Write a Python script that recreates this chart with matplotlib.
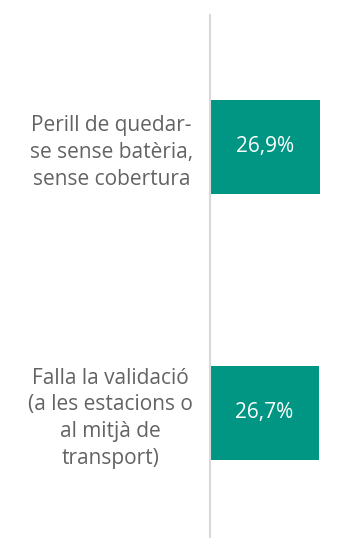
import matplotlib
matplotlib.use("Agg")
import matplotlib.pyplot as plt

plt.rcParams['font.family'] = ['Open Sans', 'DejaVu Sans']

# categories and shares (%)
categories = [
    "Perill de quedar-\nse sense batèria,\nsense cobertura",
    "Falla la validació\n(a les estacions o\nal mitjà de\ntransport)",
]
values = [26.9, 26.7]
value_labels = ["26,9%", "26,7%"]

bar_color = "#009683"
text_color = "#636363"

fig = plt.figure(figsize=(3.57, 5.38), dpi=100)
ax = fig.add_axes([0.588, 0.0, 0.412, 0.972])

ypos = list(range(len(categories)))
bars = ax.barh(ypos, values, height=0.35, color=bar_color)

ax.set_xlim(0, 36)
ax.set_ylim(1.47, -0.496)

for b, lab in zip(bars, value_labels):
    ax.text(b.get_width() / 2, b.get_y() + b.get_height() / 2, lab,
            ha="center", va="center", color="white", fontsize=15)

ax.set_yticks(ypos)
ax.set_yticklabels(categories, fontsize=15, color=text_color,
                   multialignment="center", linespacing=1.36)
ax.tick_params(axis="y", length=0, pad=12)
ax.set_xticks([])

for s in ["top", "right", "bottom"]:
    ax.spines[s].set_visible(False)
ax.spines["left"].set_color("#d9d9d9")
ax.spines["left"].set_linewidth(1.5)

fig.savefig("out.png", dpi=100)
